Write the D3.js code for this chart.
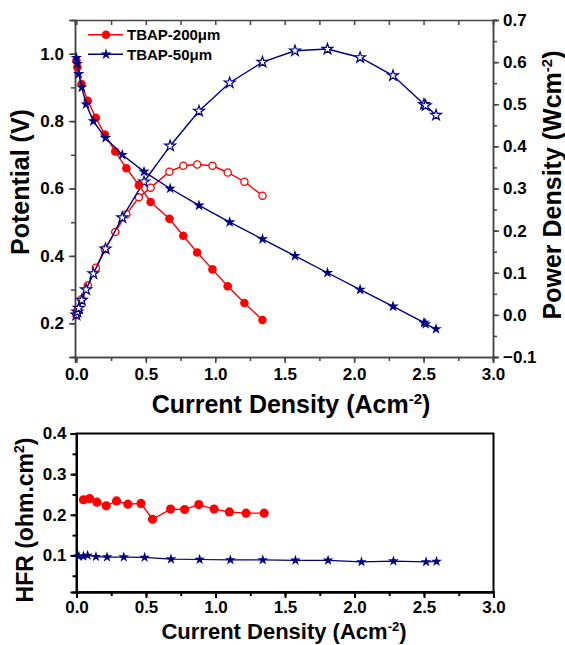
<!DOCTYPE html>
<html>
<head>
<meta charset="utf-8">
<title>TBAP polarization and HFR</title>
<script src="https://d3js.org/d3.v7.min.js"></script>
<style>
  body { margin: 0; background: #fff; }
  text { font-family: "Liberation Sans", Arial, sans-serif; font-weight: bold; fill: #000; }
</style>
</head>
<body>
<script>
// TBAP-200um: current density, potential, power density
const curr200 = [0, 0.007, 0.037, 0.082, 0.14, 0.205, 0.28, 0.36, 0.45, 0.535, 0.67, 0.77, 0.87, 0.98, 1.09, 1.21, 1.34];
const volt200 = [0.98, 0.96, 0.91, 0.86, 0.81, 0.76, 0.71, 0.66, 0.61, 0.56, 0.51, 0.46, 0.41, 0.36, 0.31, 0.26, 0.21];
const power200 = [0, 0.009, 0.037, 0.07, 0.112, 0.156, 0.197, 0.239, 0.279, 0.302, 0.34, 0.354, 0.357, 0.354, 0.338, 0.316, 0.283];

// TBAP-50um
const curr50 = [0, 0.007, 0.017, 0.039, 0.07, 0.122, 0.21, 0.33, 0.487, 0.675, 0.883, 1.104, 1.34, 1.574, 1.808, 2.043, 2.28, 2.503, 2.515, 2.59];
const volt50 = [0.988, 0.97, 0.94, 0.90, 0.85, 0.80, 0.75, 0.70, 0.65, 0.60, 0.55, 0.50, 0.45, 0.40, 0.35, 0.30, 0.25, 0.202, 0.198, 0.183];
const power50 = [0, 0.007, 0.016, 0.035, 0.06, 0.098, 0.157, 0.231, 0.316, 0.401, 0.484, 0.551, 0.600, 0.627, 0.631, 0.611, 0.568, 0.500, 0.497, 0.474];

// HFR
const hfrCurr200 = [0.05, 0.094, 0.147, 0.214, 0.288, 0.37, 0.464, 0.547, 0.677, 0.778, 0.88, 0.99, 1.10, 1.22, 1.35];
const hfr200 = [0.237, 0.24, 0.231, 0.222, 0.234, 0.226, 0.228, 0.189, 0.214, 0.213, 0.225, 0.214, 0.207, 0.204, 0.204];
const hfrCurr50 = [0.017, 0.05, 0.08, 0.14, 0.22, 0.34, 0.49, 0.68, 0.886, 1.107, 1.34, 1.575, 1.81, 2.05, 2.28, 2.515, 2.59];
const hfr50 = [0.098, 0.098, 0.1, 0.097, 0.096, 0.096, 0.095, 0.091, 0.09, 0.089, 0.089, 0.088, 0.088, 0.084, 0.086, 0.084, 0.085];

const seriesNames = ["TBAP-200\u03bcm", "TBAP-50\u03bcm"];
const xTicks = [0, 0.5, 1.0, 1.5, 2.0, 2.5, 3.0];
const vTicks = [0.2, 0.4, 0.6, 0.8, 1.0];
const pTicks = [-0.1, 0, 0.1, 0.2, 0.3, 0.4, 0.5, 0.6, 0.7];
const hTicks = [0.1, 0.2, 0.3, 0.4];

const red = "#ff0000", navy = "#000080";

const svg = d3.select("body").append("svg")
  .attr("width", 565).attr("height", 645);

// ---------- top panel ----------
const x = d3.scaleLinear().domain([-0.01, 3]).range([75, 493]);
const yV = d3.scaleLinear().domain([0.1, 1.1]).range([357, 20]);
const yP = d3.scaleLinear().domain([-0.1, 0.7]).range([357, 20]);
const frameTop = "#444";

function styleAxis(g, color, w) {
  g.select(".domain").attr("stroke", color).attr("stroke-width", w);
  g.selectAll(".tick line").attr("stroke", color).attr("stroke-width", w);
  g.selectAll(".tick text").style("font-size", "17px").attr("fill", "#000");
}

// minor ticks first
svg.append("g").attr("transform", "translate(0,357)")
  .call(d3.axisBottom(x).tickValues(d3.range(0, 3.01, 0.25)).tickSize(4).tickFormat(""))
  .call(g => styleAxis(g, frameTop, 1.5));
svg.append("g").attr("transform", "translate(0,357)")
  .call(d3.axisBottom(x).tickValues(xTicks).tickSize(6).tickPadding(5).tickFormat(d3.format(".1f")))
  .call(g => styleAxis(g, frameTop, 1.5));
svg.append("g").attr("transform", "translate(0,20)")
  .call(d3.axisBottom(x).tickValues(d3.range(0, 3.01, 0.25)).tickSize(5).tickFormat(""))
  .call(g => styleAxis(g, frameTop, 1.5));

svg.append("g").attr("transform", "translate(75,0)")
  .call(d3.axisLeft(yV).tickValues(d3.range(0.1, 1.101, 0.1)).tickSize(4).tickFormat(""))
  .call(g => styleAxis(g, frameTop, 1.5));
svg.append("g").attr("transform", "translate(75,0)")
  .call(d3.axisLeft(yV).tickValues(vTicks).tickSize(6).tickPadding(5).tickFormat(d3.format(".1f")))
  .call(g => styleAxis(g, frameTop, 1.5));

svg.append("g").attr("transform", "translate(493,0)")
  .call(d3.axisRight(yP).tickValues(d3.range(-0.1, 0.701, 0.05)).tickSize(4).tickFormat(""))
  .call(g => styleAxis(g, frameTop, 1.5));
svg.append("g").attr("transform", "translate(493,0)")
  .call(d3.axisRight(yP).tickValues(pTicks).tickSize(6).tickPadding(4).tickFormat(d3.format(".1f")))
  .call(g => styleAxis(g, frameTop, 1.5));

// titles
svg.append("text").attr("transform", "translate(29,182) rotate(-90)")
  .attr("text-anchor", "middle").style("font-size", "25px").text("Potential (V)");
const pt = svg.append("text").attr("transform", "translate(561,185) rotate(-90)")
  .attr("text-anchor", "middle").style("font-size", "25px");
pt.append("tspan").text("Power Density (Wcm");
pt.append("tspan").attr("dy", -9).style("font-size", "15px").text("-2");
pt.append("tspan").attr("dy", 9).text(")");

function xTitle(cx, by, size) {
  const t = svg.append("text").attr("x", cx).attr("y", by)
    .attr("text-anchor", "middle").style("font-size", size + "px");
  t.append("tspan").text("Current Density (Acm");
  t.append("tspan").attr("dy", -size * 0.38).style("font-size", Math.round(size * 0.6) + "px").text("-2");
  t.append("tspan").attr("dy", size * 0.38).text(")");
}
xTitle(291, 413, 25);

const line = (xs, ys, sx, sy) => d3.line()(xs.map((v, i) => [sx(v), sy(ys[i])]));
const star = d3.symbol().type(d3.symbolStar);

// power curves (open markers)
svg.append("path").attr("d", line(curr200, power200, x, yP))
  .attr("fill", "none").attr("stroke", red).attr("stroke-width", 1.4);
svg.append("g").selectAll("circle").data(curr200).join("circle")
  .attr("cx", d => x(d)).attr("cy", (d, i) => yP(power200[i])).attr("r", 3.6)
  .attr("fill", "#fff").attr("stroke", red).attr("stroke-width", 1.3);

svg.append("path").attr("d", line(curr50, power50, x, yP))
  .attr("fill", "none").attr("stroke", navy).attr("stroke-width", 1.4);
svg.append("g").selectAll("path").data(curr50).join("path")
  .attr("d", star.size(36))
  .attr("transform", (d, i) => `translate(${x(d)},${yP(power50[i])})`)
  .attr("fill", "#fff").attr("stroke", navy).attr("stroke-width", 1.2);

// potential curves (filled markers)
svg.append("path").attr("d", line(curr200, volt200, x, yV))
  .attr("fill", "none").attr("stroke", red).attr("stroke-width", 1.4);
svg.append("g").selectAll("circle").data(curr200).join("circle")
  .attr("cx", d => x(d)).attr("cy", (d, i) => yV(volt200[i])).attr("r", 4.3)
  .attr("fill", red);

svg.append("path").attr("d", line(curr50, volt50, x, yV))
  .attr("fill", "none").attr("stroke", navy).attr("stroke-width", 1.4);
svg.append("g").selectAll("path").data(curr50).join("path")
  .attr("d", star.size(40))
  .attr("transform", (d, i) => `translate(${x(d)},${yV(volt50[i])})`)
  .attr("fill", navy);

// legend
const legend = svg.append("g");
seriesNames.forEach((name, i) => {
  const ly = 34.7 + i * 19.6;
  const col = i === 0 ? red : navy;
  legend.append("line").attr("x1", 88).attr("x2", 123).attr("y1", ly).attr("y2", ly)
    .attr("stroke", col).attr("stroke-width", 1.4);
  if (i === 0) {
    legend.append("circle").attr("cx", 106).attr("cy", ly).attr("r", 4.3).attr("fill", red);
  } else {
    legend.append("path").attr("d", star.size(40)).attr("transform", `translate(106,${ly})`).attr("fill", navy);
  }
  legend.append("text").attr("x", 127).attr("y", ly + 5.3).style("font-size", "15px").text(name);
});

// ---------- bottom panel ----------
const x2 = d3.scaleLinear().domain([0, 3]).range([76.5, 493.5]);
const yH = d3.scaleLinear().domain([0.01, 0.4]).range([592, 433.5]);

svg.append("rect").attr("x", 76.5).attr("y", 433.5).attr("width", 417).attr("height", 158.5)
  .attr("fill", "none").attr("stroke", "#000").attr("stroke-width", 2);

svg.append("g").attr("transform", "translate(0,592)")
  .call(d3.axisBottom(x2).tickValues(d3.range(0, 3.01, 0.25)).tickSize(4).tickFormat(""))
  .call(g => styleAxis(g, "#000", 2));
svg.append("g").attr("transform", "translate(0,592)")
  .call(d3.axisBottom(x2).tickValues(xTicks).tickSize(6).tickPadding(3).tickFormat(d3.format(".1f")))
  .call(g => styleAxis(g, "#000", 2));
svg.append("g").attr("transform", "translate(76.5,0)")
  .call(d3.axisLeft(yH).tickValues(d3.range(0.05, 0.401, 0.05)).tickSize(4).tickFormat(""))
  .call(g => styleAxis(g, "#000", 2));
svg.append("g").attr("transform", "translate(76.5,0)")
  .call(d3.axisLeft(yH).tickValues(hTicks).tickSize(6).tickPadding(4).tickFormat(d3.format(".1f")))
  .call(g => styleAxis(g, "#000", 2));

const ht = svg.append("text").attr("transform", "translate(33,520) rotate(-90)")
  .attr("text-anchor", "middle").style("font-size", "23px");
ht.append("tspan").text("HFR (ohm.cm");
ht.append("tspan").attr("dy", -9).style("font-size", "14px").text("2");
ht.append("tspan").attr("dy", 9).text(")");
xTitle(284, 639, 22);

svg.append("path").attr("d", line(hfrCurr200, hfr200, x2, yH))
  .attr("fill", "none").attr("stroke", red).attr("stroke-width", 1.4);
svg.append("g").selectAll("circle").data(hfrCurr200).join("circle")
  .attr("cx", d => x2(d)).attr("cy", (d, i) => yH(hfr200[i])).attr("r", 4.6)
  .attr("fill", red);

svg.append("path").attr("d", line(hfrCurr50, hfr50, x2, yH))
  .attr("fill", "none").attr("stroke", navy).attr("stroke-width", 1.2);
svg.append("g").selectAll("path").data(hfrCurr50).join("path")
  .attr("d", star.size(36))
  .attr("transform", (d, i) => `translate(${x2(d)},${yH(hfr50[i])})`)
  .attr("fill", navy);
</script>
</body>
</html>
